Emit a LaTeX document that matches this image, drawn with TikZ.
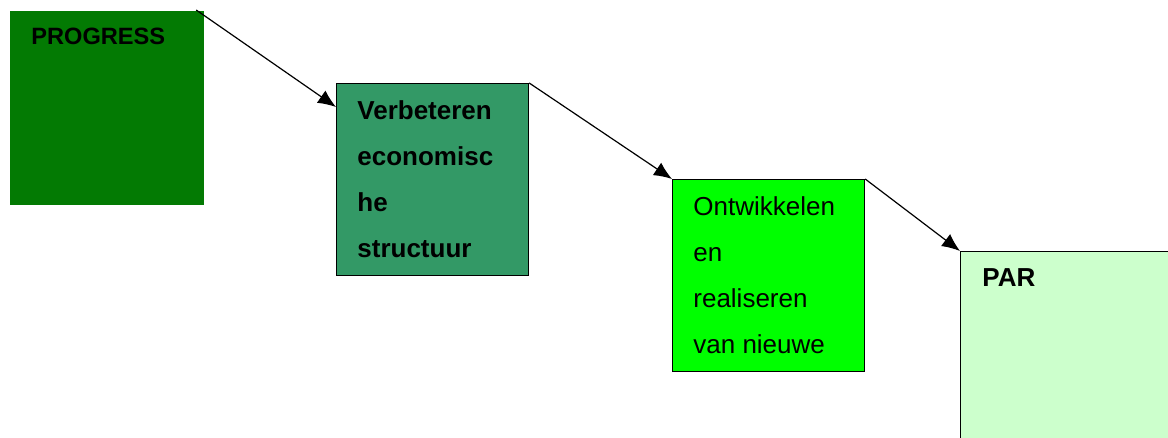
\documentclass[tikz,border=0pt]{standalone}
\usepackage{fontspec}
\setmainfont{Liberation Sans}
\usetikzlibrary{positioning}
\usetikzlibrary{arrows.meta}

\definecolor{donkergroen}{RGB}{3,122,3}
\definecolor{zeegroen}{RGB}{51,153,102}
\definecolor{felgroen}{RGB}{0,255,0}
\definecolor{lichtgroen}{RGB}{204,255,204}

\tikzset{
    stap/.style={rectangle, inner sep=0pt, anchor=north west, line width=0.6pt,
        minimum width=96pt, minimum height=96pt},
    tekst/.style={inner sep=0pt, align=left, font=\fontsize{13}{23}\selectfont},
    pijl/.style={-{Latex[length=9pt,width=7.5pt]}, line width=0.6pt},
}

\begin{document}
\begin{tikzpicture}[x=0.5pt, y=-0.5pt]
        \path[use as bounding box, clip] (0,0) rectangle (1168,438);

        \node[stap, fill=donkergroen, minimum width=97pt, minimum height=97pt] (Progress) at (9,10) {};
        \node[stap, draw, fill=zeegroen] (Verbeteren) at (336,83) {};
        \node[stap, draw, fill=felgroen] (Ontwikkelen) at (672,179) {};
        \node[stap, draw, fill=lichtgroen, minimum width=120pt, minimum height=110pt] (Par) at (960,251) {};

        \node[tekst, font=\fontsize{11.8}{23}\selectfont, below right=9pt and 11pt of Progress.north west] (ProgressT) {\textbf{PROGRESS}};
        \node[tekst, below right=8.7pt and 10.5pt of Verbeteren.north west] (VerbeterenT)
            {\textbf{Verbeteren}\\\textbf{economisc}\\\textbf{he}\\\textbf{structuur}};
        \node[tekst, below right=8.7pt and 10.5pt of Ontwikkelen.north west] (OntwikkelenT)
            {Ontwikkelen\\en\\realiseren\\van nieuwe};
        \node[tekst, below right=8.7pt and 11pt of Par.north west] (ParT) {\textbf{PAR}};

        \draw[pijl] ([xshift=-4pt]Progress.north east) -- ([yshift=-12pt]Verbeteren.north west);
        \draw[pijl] (Verbeteren.north east) -- (Ontwikkelen.north west);
        \draw[pijl] (Ontwikkelen.north east) -- (Par.north west);
    \end{tikzpicture}
\end{document}
